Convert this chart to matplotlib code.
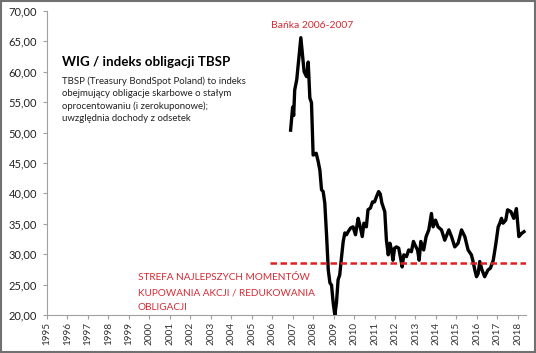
import matplotlib
matplotlib.use("Agg")
import matplotlib.pyplot as plt
from matplotlib.patches import Rectangle

# traced points of WIG / TBSP ratio (decimal year, value)
years = [2006.9, 2007.0, 2007.05, 2007.1, 2007.2, 2007.4, 2007.56, 2007.68, 2007.76,
         2007.84, 2007.92, 2008.0, 2008.15, 2008.25, 2008.33, 2008.41, 2008.49,
         2008.57, 2008.66, 2008.74, 2008.82, 2008.9, 2008.98, 2009.06, 2009.14,
         2009.22, 2009.3, 2009.39, 2009.47, 2009.55, 2009.63, 2009.71, 2009.83,
         2009.95, 2010.07, 2010.2, 2010.28, 2010.4, 2010.48, 2010.6, 2010.68,
         2010.8, 2010.9, 2011.0, 2011.1, 2011.2, 2011.28, 2011.36, 2011.5,
         2011.58, 2011.67, 2011.75, 2011.83, 2011.9, 2011.98, 2012.07, 2012.18,
         2012.27, 2012.35, 2012.43, 2012.56, 2012.67, 2012.8, 2012.9, 2012.98,
         2013.1, 2013.18, 2013.26, 2013.4, 2013.52, 2013.65, 2013.78, 2013.86,
         2013.98, 2014.1, 2014.27, 2014.43, 2014.63, 2014.76, 2014.92, 2015.08,
         2015.25, 2015.41, 2015.57, 2015.73, 2015.8, 2015.9, 2015.98, 2016.06,
         2016.14, 2016.25, 2016.38, 2016.54, 2016.66, 2016.8, 2016.93, 2017.04,
         2017.12, 2017.2, 2017.28, 2017.41, 2017.5, 2017.66, 2017.8, 2017.93,
         2018.05, 2018.18, 2018.3]
wig_tbsp = [50.4, 54.2, 52.8, 57.0, 58.7, 65.6, 60.0, 59.2, 61.6,
            55.7, 54.9, 46.3, 46.6, 45.2, 43.8, 40.6, 40.3,
            38.4, 32.9, 27.4, 25.3, 24.9, 22.0, 20.0, 22.0,
            25.8, 26.6, 29.6, 32.1, 33.5, 33.2, 33.7, 34.3,
            34.5, 33.2, 35.9, 34.8, 32.9, 35.1, 34.5, 37.3,
            37.6, 38.6, 38.6, 39.5, 40.3, 39.9, 38.4, 37.0,
            32.3, 29.9, 31.8, 30.7, 29.0, 31.0, 31.2, 31.0,
            29.4, 27.9, 29.9, 29.6, 30.7, 30.4, 32.1, 31.5,
            30.7, 29.0, 32.1, 30.7, 32.9, 34.0, 36.7, 34.5,
            35.6, 34.5, 34.0, 32.3, 34.0, 32.9, 31.2, 31.8,
            34.0, 32.9, 30.7, 29.9, 29.0, 27.4, 26.3, 26.8,
            28.8, 27.4, 26.3, 27.4, 27.7, 29.0, 31.8, 34.5,
            35.1, 35.9, 35.1, 35.6, 37.3, 37.0, 35.9, 37.5,
            32.9, 33.4, 33.7]

zone_level = 28.6
zone_span = [2005.9, 2018.45]
year_ticks = list(range(1995, 2019))
y_ticks = [20, 25, 30, 35, 40, 45, 50, 55, 60, 65, 70]

fam = ["Lato", "DejaVu Sans"]
red = "#d52b35"

fig = plt.figure(figsize=(5.36, 3.53), dpi=100)
ax = fig.add_axes([0.0877, 0.1076, 0.8933, 0.8614])

ax.plot(years, wig_tbsp, color="black", lw=2.4, solid_joinstyle="round")
ax.plot(zone_span, [zone_level, zone_level], color="#e02020", lw=1.8,
        dashes=(2.6, 1.4))

ax.set_xlim(1995, 2018.39)
ax.set_ylim(20, 70)
ax.set_xticks(year_ticks)
ax.set_xticklabels([str(y) for y in year_ticks], rotation=90, family=fam,
                   fontsize=7.2)
ax.set_yticks(y_ticks)
ax.set_yticklabels(["%d,00" % v for v in y_ticks], family=fam, fontsize=8)
for s in ["top", "right"]:
    ax.spines[s].set_visible(False)
for s in ["left", "bottom"]:
    ax.spines[s].set_color("#a0a0a0")
    ax.spines[s].set_linewidth(0.8)
ax.tick_params(axis="both", colors="#a0a0a0", length=3, width=0.8)
ax.tick_params(axis="x", pad=2, labelcolor="#333333")
ax.tick_params(axis="y", pad=4, labelcolor="#222222")

# title and description
fig.text(62 / 536, 1 - 66 / 353, "WIG / indeks obligacji TBSP", family=fam,
         fontsize=9.6, fontweight="bold", va="baseline")
desc = ["TBSP (Treasury BondSpot Poland) to indeks",
        "obejmujący obligacje skarbowe o stałym",
        "oprocentowaniu (i zerokuponowe);",
        "uwzględnia dochody z odsetek"]
for i, line in enumerate(desc):
    fig.text(62 / 536, 1 - (84 + i * 12.4) / 353, line, family=fam,
             fontsize=6.9, color="#222222", va="baseline")

fig.text(271 / 536, 1 - 25 / 353, "Bańka 2006-2007", family=fam,
         fontsize=7.5, color=red, va="center")
zone_txt = ["STREFA NAJLEPSZYCH MOMENTÓW", "KUPOWANIA AKCJI / REDUKOWANIA",
            "OBLIGACJI"]
for i, line in enumerate(zone_txt):
    fig.text(138 / 536, 1 - (278 + i * 14.5) / 353, line, family=fam,
             fontsize=7.2, color=red, va="center")

fig.patches.append(Rectangle((0.002, 0.003), 0.996, 0.994, transform=fig.transFigure,
                             fill=False, edgecolor="#707070", lw=1.5))

fig.savefig("out.png", dpi=100)
